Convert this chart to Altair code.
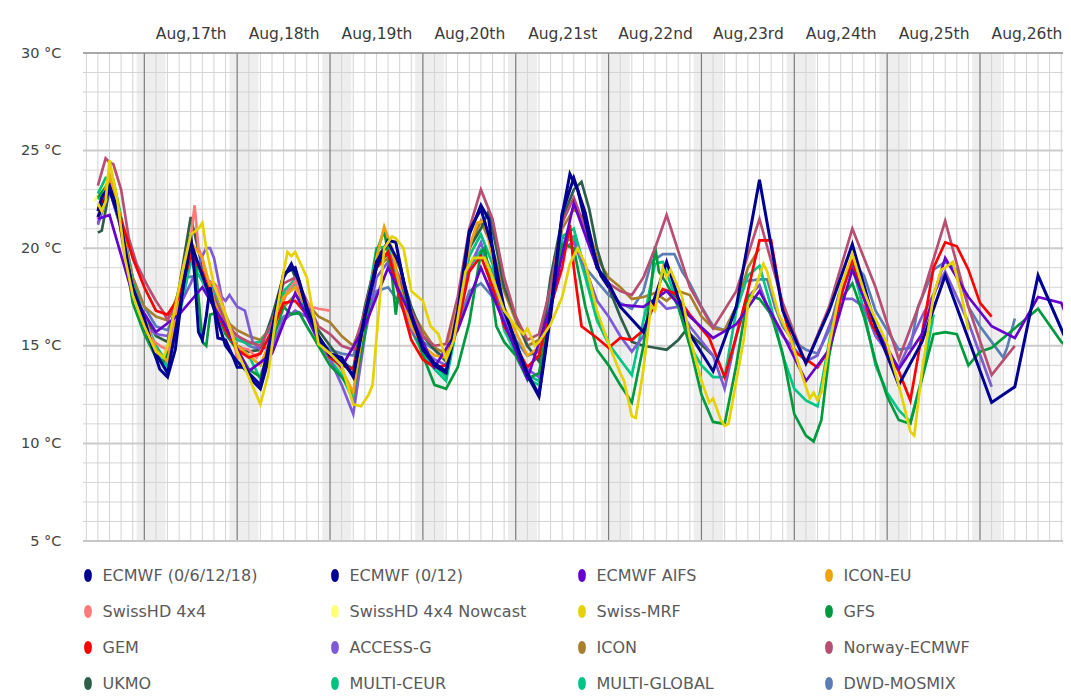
import altair as alt
import pandas as pd

# ---------------- data: (day of August, hour, temperature °C) ----------------
ECMWF_0_6_12_18 = [
    (16, 12, 21.9), (16, 13, 22.6), (16, 15, 23.2), (16, 17, 22.0), (16, 19, 19.8), (16, 21, 18.0),
    (17, 0, 16.4), (17, 2, 15.0), (17, 4, 13.8), (17, 6, 13.4), (17, 8, 14.8), (17, 10, 18.0),
    (17, 12, 20.7), (17, 13, 18.6), (17, 14, 15.7), (17, 15, 15.3), (17, 16, 16.5), (17, 17, 18.0),
    (17, 18, 17.0), (17, 19, 15.4), (17, 21, 15.3), (17, 23, 14.4),
    (18, 0, 13.9), (18, 2, 13.9), (18, 4, 13.2), (18, 6, 12.8), (18, 8, 14.2), (18, 10, 16.8),
    (18, 12, 18.5), (18, 14, 19.2), (18, 16, 18.3), (18, 18, 16.8), (18, 21, 15.5),
    (19, 0, 14.6), (19, 3, 14.4), (19, 6, 13.4), (19, 9, 16.5), (19, 12, 19.0), (19, 15, 20.4),
    (19, 17, 20.3), (19, 19, 18.3), (19, 21, 16.5),
    (20, 0, 14.8), (20, 3, 14.0), (20, 6, 13.6), (20, 9, 16.5), (20, 12, 20.7), (20, 15, 22.2),
    (20, 17, 21.5), (20, 19, 18.5), (20, 21, 16.8),
    (21, 0, 15.2), (21, 3, 13.5), (21, 6, 12.4), (21, 9, 16.5), (21, 12, 21.7), (21, 14, 23.8),
    (21, 16, 23.0), (21, 19, 20.5), (21, 22, 18.6), (22, 0, 18.0),
]
ECMWF_0_12 = [
    (16, 12, 21.6), (16, 15, 23.0), (16, 18, 21.2), (16, 21, 17.8),
    (17, 0, 16.0), (17, 3, 14.6), (17, 6, 13.6), (17, 9, 16.8), (17, 12, 20.3), (17, 15, 18.6), (17, 18, 16.9), (17, 21, 15.0),
    (18, 0, 14.2), (18, 3, 13.6), (18, 6, 13.0), (18, 9, 15.8), (18, 12, 18.7), (18, 15, 19.0), (18, 18, 17.0), (18, 21, 15.4),
    (19, 0, 14.5), (19, 3, 14.2), (19, 6, 13.5), (19, 9, 16.6), (19, 12, 19.3), (19, 15, 20.3), (19, 18, 19.2), (19, 21, 16.6),
    (20, 0, 14.9), (20, 3, 14.1), (20, 6, 13.7), (20, 9, 16.8), (20, 12, 20.9), (20, 15, 22.0), (20, 18, 20.0), (20, 21, 16.9),
    (21, 0, 15.1), (21, 3, 13.6), (21, 6, 12.5), (21, 9, 16.8), (21, 12, 21.8), (21, 15, 23.6), (21, 18, 21.8), (21, 21, 19.0),
    (22, 0, 18.2), (22, 3, 17.0), (22, 9, 15.7), (22, 15, 19.3), (22, 21, 15.6),
    (23, 3, 13.7), (23, 9, 17.0), (23, 15, 23.5), (23, 21, 16.8),
    (24, 3, 14.1), (24, 9, 16.8), (24, 15, 20.2), (24, 21, 16.0),
    (25, 3, 13.0), (25, 9, 15.2), (25, 15, 18.6), (26, 3, 12.1), (26, 9, 12.9), (26, 15, 18.6), (27, 0, 14.5),
]
ECMWF_AIFS = [
    (16, 12, 21.5), (16, 15, 21.7), (16, 21, 17.6), (17, 3, 15.7), (17, 9, 16.6), (17, 15, 18.0), (17, 21, 16.0),
    (18, 3, 13.7), (18, 9, 14.6), (18, 15, 17.7), (18, 21, 15.3), (19, 3, 13.9), (19, 9, 16.0), (19, 15, 19.0),
    (19, 21, 16.5), (20, 3, 13.9), (20, 9, 15.8), (20, 15, 19.0), (20, 21, 16.2), (21, 3, 13.3), (21, 9, 17.0),
    (21, 15, 22.3), (21, 21, 19.0), (22, 3, 17.1), (22, 9, 17.0), (22, 15, 17.8), (22, 21, 16.5), (23, 3, 15.4),
    (23, 9, 16.1), (23, 15, 17.8), (23, 21, 15.6), (24, 3, 13.2), (24, 9, 14.8), (24, 15, 18.9), (24, 21, 16.0),
    (25, 3, 13.8), (25, 9, 15.6), (25, 15, 19.5), (25, 21, 17.5), (26, 3, 16.0), (26, 9, 15.4), (26, 15, 17.5),
    (26, 21, 17.2), (27, 0, 15.7),
]
ICON_EU = [
    (16, 12, 21.6), (16, 15, 23.8), (16, 18, 21.5), (16, 21, 18.0),
    (17, 0, 16.2), (17, 3, 14.8), (17, 6, 14.2), (17, 9, 17.0), (17, 12, 20.3), (17, 15, 19.5), (17, 18, 17.3), (17, 21, 15.8),
    (18, 0, 15.0), (18, 3, 14.5), (18, 6, 14.0), (18, 9, 15.5), (18, 12, 17.5), (18, 15, 18.0), (18, 18, 17.0), (18, 21, 15.3),
    (19, 0, 14.5), (19, 3, 13.8), (19, 6, 12.6), (19, 9, 16.5), (19, 12, 19.5), (19, 14, 21.1), (19, 16, 20.0), (19, 18, 18.0),
    (19, 21, 16.0), (20, 0, 15.0), (20, 3, 14.5), (20, 6, 14.4), (20, 9, 17.0), (20, 12, 20.0), (20, 14, 21.3), (20, 16, 21.4),
    (20, 18, 19.5), (20, 21, 17.0), (21, 0, 15.7), (21, 3, 14.5), (21, 6, 14.9), (21, 9, 16.8),
]
SWISSHD_4X4 = [
    (16, 12, 21.5), (16, 13, 22.5), (16, 15, 23.4), (16, 17, 22.0), (16, 19, 19.5), (16, 21, 17.8),
    (17, 0, 16.5), (17, 2, 15.3), (17, 4, 15.0), (17, 6, 14.8), (17, 8, 16.5), (17, 10, 19.0), (17, 12, 20.5),
    (17, 13, 22.2), (17, 14, 20.0), (17, 15, 19.5), (17, 16, 18.3), (17, 18, 18.2), (17, 19, 18.0), (17, 21, 16.6),
    (17, 23, 15.5), (18, 0, 14.3), (18, 1, 14.9), (18, 3, 14.8), (18, 5, 14.4), (18, 7, 15.0), (18, 9, 15.6),
    (18, 11, 16.8), (18, 13, 17.8), (18, 15, 18.3), (18, 17, 17.5), (18, 19, 17.0), (18, 21, 16.9), (19, 0, 16.8),
]
SWISSHD_4X4_NOWCAST = [
    (16, 11, 22.4), (16, 12, 22.7), (16, 13, 23.0), (16, 14, 23.3), (16, 15, 23.1),
]
SWISS_MRF = [
    (16, 12, 22.3), (16, 13, 21.9), (16, 14, 22.4), (16, 15, 24.5), (16, 17, 22.5), (16, 19, 19.5), (16, 21, 17.6),
    (17, 0, 16.0), (17, 3, 14.7), (17, 5, 14.4), (17, 6, 15.0), (17, 9, 18.0), (17, 12, 20.7), (17, 14, 21.0),
    (17, 15, 21.3), (17, 16, 20.0), (17, 18, 18.1), (17, 21, 16.6),
    (18, 0, 14.7), (18, 3, 13.4), (18, 6, 12.0), (18, 8, 13.5), (18, 10, 16.5), (18, 12, 18.8), (18, 13, 19.8),
    (18, 14, 19.6), (18, 15, 19.8), (18, 18, 18.5), (18, 21, 15.1),
    (19, 0, 14.6), (19, 3, 14.0), (19, 6, 12.0), (19, 8, 11.9), (19, 10, 12.5), (19, 11, 13.0), (19, 12, 15.4),
    (19, 14, 20.0), (19, 16, 20.6), (19, 17, 20.5), (19, 19, 20.0), (19, 21, 17.8),
    (20, 0, 17.3), (20, 2, 16.0), (20, 4, 15.6), (20, 6, 14.3), (20, 8, 15.3), (20, 9, 16.4), (20, 11, 18.8),
    (20, 13, 19.5), (20, 16, 19.5), (20, 18, 18.5), (20, 21, 16.8),
    (21, 0, 16.0), (21, 2, 15.6), (21, 3, 15.9), (21, 5, 15.0), (21, 6, 15.2), (21, 9, 16.1), (21, 12, 17.5),
    (21, 14, 19.2), (21, 16, 20.0), (21, 18, 19.2), (21, 21, 16.8),
    (22, 0, 15.1), (22, 3, 13.6), (22, 4, 13.2), (22, 6, 11.4), (22, 7, 11.3), (22, 9, 13.8), (22, 11, 17.1),
    (22, 12, 16.8), (22, 14, 19.0), (22, 15, 18.5), (22, 16, 18.9), (22, 19, 17.5), (22, 21, 15.4),
    (23, 0, 13.2), (23, 2, 12.1), (23, 3, 12.3), (23, 5, 11.2), (23, 6, 10.9), (23, 7, 11.0), (23, 9, 13.2),
    (23, 11, 15.4), (23, 12, 17.1), (23, 14, 18.0), (23, 15, 18.6), (23, 16, 19.2), (23, 17, 18.8), (23, 20, 16.6),
    (23, 23, 15.4), (24, 2, 13.5), (24, 4, 12.3), (24, 5, 12.6), (24, 6, 12.2), (24, 7, 12.6), (24, 9, 15.0),
    (24, 12, 18.0), (24, 15, 19.7), (24, 18, 17.8), (24, 20, 16.8),
    (25, 0, 15.1), (25, 3, 13.0), (25, 6, 10.6), (25, 7, 10.4), (25, 9, 13.7), (25, 12, 17.6), (25, 14, 18.9),
    (25, 15, 19.0), (25, 17, 19.3), (25, 19, 17.8), (25, 21, 15.8),
]
GFS = [
    (16, 12, 22.6), (16, 15, 23.4), (16, 18, 21.0), (16, 21, 17.2),
    (17, 0, 15.6), (17, 3, 14.4), (17, 5, 14.2), (17, 6, 14.6), (17, 9, 17.6), (17, 12, 20.4), (17, 13, 19.6),
    (17, 14, 17.5), (17, 15, 15.2), (17, 16, 15.0), (17, 17, 16.6), (17, 19, 16.7), (17, 21, 15.6),
    (18, 0, 14.8), (18, 3, 13.8), (18, 6, 13.4), (18, 9, 15.2), (18, 12, 17.0), (18, 14, 16.6), (18, 16, 16.7),
    (18, 18, 16.0), (18, 21, 15.0),
    (19, 0, 14.0), (19, 3, 13.4), (19, 6, 12.6), (19, 9, 15.6), (19, 12, 19.8), (19, 14, 20.9), (19, 16, 18.6),
    (19, 17, 16.6), (19, 18, 18.3), (19, 21, 16.3),
    (20, 0, 14.5), (20, 3, 13.0), (20, 6, 12.8), (20, 9, 13.9), (20, 12, 16.2), (20, 14, 18.6), (20, 15, 19.8),
    (20, 16, 20.0), (20, 17, 18.8), (20, 19, 16.0), (20, 21, 15.2),
    (21, 0, 14.5), (21, 3, 13.3), (21, 6, 13.6), (21, 9, 16.8), (21, 12, 20.2), (21, 15, 20.0), (21, 18, 17.0),
    (21, 21, 14.8),
    (22, 0, 14.0), (22, 3, 13.0), (22, 6, 12.1), (22, 9, 15.0), (22, 11, 18.0), (22, 12, 20.1), (22, 13, 18.8),
    (22, 15, 18.2), (22, 18, 17.0), (22, 21, 15.0),
    (23, 0, 12.5), (23, 3, 11.1), (23, 6, 11.0), (23, 9, 14.0), (23, 12, 17.6), (23, 15, 17.4), (23, 18, 16.6),
    (23, 21, 14.6),
    (24, 0, 11.5), (24, 3, 10.4), (24, 5, 10.1), (24, 7, 11.2), (24, 9, 14.5), (24, 12, 17.4), (24, 15, 18.2),
    (24, 18, 16.5), (24, 21, 14.2),
    (25, 0, 12.4), (25, 3, 11.2), (25, 6, 11.0), (25, 9, 13.3), (25, 12, 15.6), (25, 15, 15.7), (25, 18, 15.6),
    (25, 21, 14.0),
    (26, 0, 14.7), (26, 3, 14.9), (26, 9, 15.9), (26, 15, 16.9), (26, 21, 15.2), (27, 0, 14.7),
]
GEM = [
    (16, 12, 22.0), (16, 15, 23.0), (16, 18, 21.5), (16, 21, 19.5),
    (17, 0, 18.0), (17, 3, 16.8), (17, 6, 16.6), (17, 9, 17.5), (17, 12, 19.6), (17, 15, 18.8), (17, 18, 17.0), (17, 21, 15.8),
    (18, 0, 14.8), (18, 3, 14.4), (18, 6, 14.6), (18, 9, 15.8), (18, 12, 17.2), (18, 15, 17.3), (18, 18, 16.6), (18, 21, 15.5),
    (19, 0, 14.4), (19, 3, 14.0), (19, 6, 13.8), (19, 9, 16.5), (19, 12, 19.0), (19, 15, 19.8), (19, 18, 17.5), (19, 21, 15.3),
    (20, 0, 14.3), (20, 3, 13.9), (20, 6, 14.0), (20, 9, 16.0), (20, 12, 18.8), (20, 15, 19.6), (20, 18, 18.0), (20, 21, 16.0),
    (21, 0, 15.0), (21, 3, 13.9), (21, 6, 14.5), (21, 9, 17.0), (21, 12, 19.0), (21, 14, 21.2), (21, 15, 19.0),
    (21, 17, 16.0), (21, 21, 15.4),
    (22, 0, 14.9), (22, 3, 15.4), (22, 6, 15.3), (22, 9, 15.8), (22, 12, 17.2), (22, 14, 17.9), (22, 17, 17.7),
    (22, 21, 16.6), (23, 2, 15.4), (23, 6, 13.4), (23, 9, 15.5), (23, 12, 17.8), (23, 15, 20.4), (23, 18, 20.4),
    (23, 21, 16.9), (24, 0, 14.7), (24, 3, 14.3), (24, 6, 13.9), (24, 9, 14.8), (24, 12, 17.5), (24, 15, 19.4),
    (24, 20, 16.1), (25, 3, 13.7), (25, 6, 12.2), (25, 12, 19.0), (25, 15, 20.3), (25, 18, 20.1), (25, 21, 18.9),
    (26, 0, 17.2), (26, 3, 16.5),
]
ACCESS_G = [
    (16, 12, 21.2), (16, 15, 23.0), (16, 18, 21.0), (16, 21, 17.8),
    (17, 0, 16.0), (17, 3, 15.6), (17, 6, 15.5), (17, 9, 17.0), (17, 12, 18.2), (17, 15, 19.6), (17, 16, 20.0),
    (17, 17, 20.0), (17, 18, 19.5), (17, 20, 17.5), (17, 21, 17.3), (17, 22, 17.6),
    (18, 0, 17.0), (18, 2, 16.8), (18, 4, 15.2), (18, 6, 14.8), (18, 9, 15.0), (18, 12, 16.3), (18, 15, 16.8),
    (18, 18, 16.5), (18, 21, 15.2),
    (19, 0, 14.3), (19, 3, 13.0), (19, 6, 11.5), (19, 9, 15.5), (19, 12, 18.5), (19, 15, 19.3), (19, 18, 17.5),
    (19, 21, 15.8),
    (20, 0, 14.8), (20, 3, 14.3), (20, 6, 14.0), (20, 9, 16.5), (20, 12, 19.0), (20, 15, 20.3), (20, 18, 18.5),
    (20, 21, 16.5),
    (21, 0, 14.8), (21, 3, 13.8), (21, 6, 13.4), (21, 9, 17.0), (21, 12, 20.0), (21, 15, 20.3), (21, 18, 19.0),
    (21, 21, 17.3),
    (22, 0, 16.5), (22, 3, 15.5), (22, 6, 14.7), (22, 9, 15.5), (22, 12, 17.5), (22, 15, 16.9), (22, 18, 17.0),
    (22, 21, 16.0), (23, 3, 14.5), (23, 6, 12.8), (23, 9, 15.5), (23, 12, 17.5), (23, 15, 18.1), (23, 18, 16.5),
    (23, 21, 15.5), (24, 3, 14.2), (24, 6, 14.5), (24, 9, 16.0), (24, 12, 17.4), (24, 15, 17.4), (24, 18, 17.0),
    (24, 21, 15.5), (25, 3, 13.9), (25, 9, 16.5), (25, 15, 18.8), (25, 21, 16.2), (26, 3, 12.9),
]
ICON = [
    (16, 12, 21.3), (16, 15, 23.2), (16, 18, 21.3), (16, 21, 18.5),
    (17, 0, 17.0), (17, 3, 16.5), (17, 6, 16.3), (17, 9, 17.8), (17, 12, 19.6), (17, 15, 18.8), (17, 18, 17.5), (17, 21, 16.3),
    (18, 0, 15.8), (18, 3, 15.5), (18, 6, 15.3), (18, 9, 16.0), (18, 12, 17.0), (18, 15, 17.6), (18, 18, 17.2), (18, 21, 16.5),
    (19, 0, 16.2), (19, 3, 15.5), (19, 6, 15.0), (19, 9, 16.5), (19, 12, 19.0), (19, 15, 19.5), (19, 18, 18.3), (19, 21, 16.8),
    (20, 0, 15.8), (20, 3, 14.9), (20, 6, 14.6), (20, 9, 17.0), (20, 12, 20.0), (20, 15, 21.4), (20, 18, 20.0), (20, 21, 17.8),
    (21, 0, 16.3), (21, 3, 15.0), (21, 6, 15.3), (21, 9, 18.0), (21, 12, 21.0), (21, 15, 22.0), (21, 18, 21.5), (21, 21, 19.5),
    (22, 0, 18.5), (22, 3, 18.0), (22, 6, 17.4), (22, 9, 17.5), (22, 12, 17.7), (22, 15, 17.3), (22, 18, 17.8), (22, 21, 17.6),
    (23, 0, 16.5), (23, 3, 15.9), (23, 6, 15.8), (23, 9, 17.0), (23, 12, 19.0), (23, 15, 20.0),
]
NORWAY_ECMWF = [
    (16, 12, 23.2), (16, 14, 24.6), (16, 15, 24.4), (16, 16, 24.3), (16, 18, 23.0), (16, 20, 20.5), (16, 22, 19.2),
    (17, 1, 18.0), (17, 3, 17.3), (17, 5, 16.7), (17, 6, 16.3), (17, 9, 17.5), (17, 12, 19.8), (17, 15, 18.8),
    (17, 18, 17.5), (17, 21, 16.2),
    (18, 0, 15.5), (18, 3, 15.2), (18, 6, 15.0), (18, 9, 16.2), (18, 12, 18.2), (18, 15, 18.5), (18, 18, 17.3), (18, 21, 16.0),
    (19, 0, 15.6), (19, 3, 15.0), (19, 6, 14.8), (19, 9, 16.8), (19, 12, 19.3), (19, 15, 19.8), (19, 18, 18.5), (19, 21, 16.8),
    (20, 0, 15.5), (20, 3, 15.0), (20, 6, 15.1), (20, 9, 17.5), (20, 12, 21.0), (20, 15, 23.0), (20, 18, 21.5), (20, 21, 18.5),
    (21, 0, 16.5), (21, 3, 15.3), (21, 6, 15.6), (21, 9, 18.0), (21, 12, 21.3), (21, 15, 22.6), (21, 18, 21.0), (21, 21, 19.0),
    (22, 0, 18.2), (22, 3, 17.8), (22, 6, 17.6), (22, 9, 18.5), (22, 12, 20.0), (22, 15, 21.7), (22, 21, 18.0),
    (23, 3, 15.9), (23, 9, 17.8), (23, 15, 21.5), (23, 21, 17.2), (24, 3, 14.1), (24, 9, 17.0), (24, 15, 21.0),
    (24, 21, 18.0), (25, 3, 14.3), (25, 9, 17.5), (25, 15, 21.4), (25, 21, 17.0), (26, 3, 13.5), (26, 9, 15.0),
]
UKMO = [
    (16, 12, 20.8), (16, 13, 20.9), (16, 15, 23.0), (16, 18, 21.0), (16, 21, 18.2),
    (17, 0, 16.5), (17, 3, 15.5), (17, 6, 15.2), (17, 9, 18.0), (17, 12, 21.6), (17, 15, 19.0), (17, 18, 17.0), (17, 21, 15.8),
    (18, 0, 15.0), (18, 3, 14.7), (18, 6, 14.8), (18, 9, 16.5), (18, 12, 18.6), (18, 14, 19.0), (18, 16, 18.0),
    (18, 18, 16.5), (18, 21, 15.8),
    (19, 0, 15.0), (19, 3, 14.2), (19, 6, 13.8), (19, 9, 17.0), (19, 12, 19.5), (19, 15, 20.3), (19, 18, 19.0), (19, 21, 17.0),
    (20, 0, 15.5), (20, 3, 14.8), (20, 6, 14.2), (20, 9, 17.0), (20, 12, 20.0), (20, 15, 21.0), (20, 17, 21.9),
    (20, 19, 20.0), (20, 21, 18.0),
    (21, 0, 16.5), (21, 3, 15.0), (21, 6, 14.2), (21, 9, 18.5), (21, 12, 21.5), (21, 15, 23.0), (21, 17, 23.4),
    (21, 19, 22.0), (21, 21, 20.0),
    (22, 0, 18.0), (22, 3, 16.5), (22, 6, 15.2), (22, 9, 15.0), (22, 12, 14.9), (22, 15, 14.8), (22, 18, 15.3),
    (22, 20, 15.8), (23, 3, 14.5),
]
MULTI_CEUR = [
    (16, 12, 22.8), (16, 14, 23.6), (16, 16, 23.5), (16, 18, 21.6), (16, 21, 18.2),
    (17, 0, 16.4), (17, 3, 15.0), (17, 6, 14.1), (17, 9, 16.8), (17, 12, 19.6), (17, 15, 18.6), (17, 18, 17.6), (17, 21, 15.9),
    (18, 0, 15.3), (18, 3, 15.1), (18, 6, 15.2), (18, 9, 16.0), (18, 12, 17.8), (18, 15, 18.4), (18, 18, 17.0), (18, 21, 15.5),
    (19, 0, 14.6), (19, 3, 13.8), (19, 6, 12.4), (19, 9, 16.4), (19, 12, 20.0), (19, 15, 20.1), (19, 18, 18.0), (19, 21, 16.0),
    (20, 0, 14.8), (20, 3, 14.0), (20, 6, 13.4), (20, 9, 16.5), (20, 12, 19.6), (20, 15, 20.7), (20, 18, 19.2), (20, 21, 16.2),
    (21, 0, 14.8), (21, 3, 13.5), (21, 6, 13.2), (21, 9, 17.2), (21, 12, 20.6), (21, 15, 21.0), (21, 18, 18.8),
    (21, 21, 16.5), (22, 0, 15.2),
]
MULTI_GLOBAL = [
    (16, 12, 22.5), (16, 15, 23.3), (16, 18, 21.2), (16, 21, 17.8),
    (17, 0, 16.0), (17, 3, 14.7), (17, 6, 13.9), (17, 9, 16.5), (17, 12, 19.3), (17, 15, 18.3), (17, 18, 17.2), (17, 21, 15.6),
    (18, 0, 15.0), (18, 3, 14.5), (18, 6, 13.3), (18, 9, 15.5), (18, 12, 17.6), (18, 15, 18.2), (18, 18, 16.8), (18, 21, 15.2),
    (19, 0, 14.3), (19, 3, 13.5), (19, 6, 12.2), (19, 9, 16.0), (19, 12, 19.7), (19, 15, 19.6), (19, 18, 17.8), (19, 21, 15.8),
    (20, 0, 14.6), (20, 3, 13.8), (20, 6, 13.2), (20, 9, 16.2), (20, 12, 19.0), (20, 15, 19.9), (20, 18, 18.8), (20, 21, 15.8),
    (21, 0, 14.6), (21, 3, 13.3), (21, 6, 13.0), (21, 9, 16.8), (21, 12, 20.3), (21, 15, 20.5), (21, 18, 18.5), (21, 21, 16.3),
    (22, 0, 15.1), (22, 3, 14.3), (22, 6, 13.5), (22, 9, 16.3), (22, 12, 19.2), (22, 14, 19.3), (22, 16, 18.2),
    (22, 19, 16.5), (22, 21, 15.0),
    (23, 0, 14.0), (23, 3, 13.4), (23, 6, 13.4), (23, 9, 16.8), (23, 12, 18.6), (23, 15, 19.1), (23, 18, 17.0), (23, 21, 14.5),
    (24, 0, 12.8), (24, 3, 12.2), (24, 6, 11.9), (24, 9, 15.2), (24, 12, 17.8), (24, 15, 19.1), (24, 18, 16.8), (24, 21, 14.0),
    (25, 0, 12.6), (25, 3, 11.7), (25, 6, 11.1), (25, 9, 13.4), (25, 12, 16.6),
]
DWD_MOSMIX = [
    (16, 12, 21.6), (16, 15, 23.0), (16, 18, 21.5), (16, 21, 18.5),
    (17, 0, 17.0), (17, 3, 16.0), (17, 6, 15.8), (17, 9, 17.0), (17, 11, 18.5), (17, 14, 18.6), (17, 17, 18.3),
    (17, 20, 17.0), (17, 23, 15.7),
    (18, 3, 15.0), (18, 6, 14.8), (18, 9, 15.5), (18, 12, 16.5), (18, 15, 16.7), (18, 18, 16.5), (18, 21, 15.3),
    (19, 0, 14.8), (19, 3, 14.6), (19, 6, 14.5), (19, 9, 16.0), (19, 12, 17.8), (19, 15, 18.0), (19, 18, 17.2), (19, 21, 16.0),
    (20, 0, 15.2), (20, 3, 14.8), (20, 6, 14.3), (20, 9, 16.0), (20, 12, 17.8), (20, 15, 18.2), (20, 18, 17.5), (20, 21, 16.5),
    (21, 0, 15.3), (21, 3, 14.5), (21, 6, 14.7), (21, 9, 17.5), (21, 12, 20.5), (21, 15, 20.6), (21, 18, 19.0), (21, 21, 18.3),
    (22, 0, 17.6), (22, 3, 17.2), (22, 6, 16.9), (22, 9, 17.8), (22, 11, 19.3), (22, 14, 19.7), (22, 17, 19.7),
    (22, 19, 18.8), (22, 21, 18.2),
    (23, 0, 17.0), (23, 3, 16.0), (23, 6, 15.8), (23, 9, 17.0), (23, 11, 18.3), (23, 15, 18.4), (23, 17, 18.4),
    (23, 19, 17.0), (23, 21, 16.0),
    (24, 0, 15.2), (24, 3, 14.8), (24, 6, 14.6), (24, 9, 15.8), (24, 12, 18.0), (24, 15, 19.3), (24, 18, 18.6), (24, 21, 16.8),
    (25, 0, 15.8), (25, 3, 14.8), (25, 6, 14.9), (25, 8, 17.0), (25, 12, 18.9), (25, 15, 19.3), (25, 18, 18.9), (25, 21, 17.0),
    (26, 0, 16.0), (26, 3, 15.2), (26, 6, 14.4), (26, 7, 14.9), (26, 9, 16.4),
]

MODEL_NAMES = [
    "ECMWF (0/6/12/18)", "ECMWF (0/12)", "ECMWF AIFS", "ICON-EU",
    "SwissHD 4x4", "SwissHD 4x4 Nowcast", "Swiss-MRF", "GFS",
    "GEM", "ACCESS-G", "ICON", "Norway-ECMWF",
    "UKMO", "MULTI-CEUR", "MULTI-GLOBAL", "DWD-MOSMIX",
]
MODEL_COLORS = [
    "#000092", "#000092", "#6600cc", "#f0a30a",
    "#ff7b7b", "#ffff7a", "#e6d200", "#009a3e",
    "#ff0000", "#7d5bd6", "#a87f2c", "#b84f72",
    "#2e5e48", "#00c27e", "#00c685", "#5b7db6",
]
MODEL_SERIES = [
    ECMWF_0_6_12_18, ECMWF_0_12, ECMWF_AIFS, ICON_EU,
    SWISSHD_4X4, SWISSHD_4X4_NOWCAST, SWISS_MRF, GFS,
    GEM, ACCESS_G, ICON, NORWAY_ECMWF,
    UKMO, MULTI_CEUR, MULTI_GLOBAL, DWD_MOSMIX,
]
# drawing order, bottom to top
DRAW_ORDER = [
    "SwissHD 4x4 Nowcast", "DWD-MOSMIX", "ICON", "UKMO", "MULTI-GLOBAL", "MULTI-CEUR",
    "ACCESS-G", "GFS", "Norway-ECMWF", "SwissHD 4x4", "ICON-EU", "GEM", "ECMWF AIFS",
    "ECMWF (0/12)", "ECMWF (0/6/12/18)", "Swiss-MRF",
]


def stamp(day, hour, minute=0):
    return f"2025-08-{day:02d}T{hour:02d}:{minute:02d}:00"


frames = {}
for name, pts in zip(MODEL_NAMES, MODEL_SERIES):
    frames[name] = pd.DataFrame({
        "t": [stamp(d, h) for d, h, _ in pts],
        "v": [v for _, _, v in pts],
        "model": name,
    })

# ---------------- scales / structure ----------------
XS = alt.Scale(domain=[alt.DateTime(year=2025, month=8, date=16, hours=8, minutes=9),
                       alt.DateTime(year=2025, month=8, date=26, hours=21, minutes=27)])
YS = alt.Scale(domain=[5, 30], nice=False, zero=False)
PLOT_W, PLOT_H = 980, 488

nights = pd.DataFrame({
    "s": [stamp(d, 22) for d in range(16, 27)],
    "e": [stamp(d + 1, 5, 30) for d in range(16, 27)],
})
grid3h = pd.DataFrame({"t": [stamp(d, h) for d in range(16, 27) for h in range(0, 24, 3)
                             if not (d == 16 and h < 9) and h != 0]})
midnights = pd.DataFrame({"t": [stamp(d, 0) for d in range(17, 27)]})
minor_y = pd.DataFrame({"g": [v for v in range(6, 30) if v % 5 != 0]})
major_y = pd.DataFrame({"g": [10, 15, 20, 25]})
bottom_y = pd.DataFrame({"g": [5]})
top_y = pd.DataFrame({"g": [30]})

noon_values = [alt.DateTime(year=2025, month=8, date=d, hours=12) for d in range(17, 27)]
X_AXIS = alt.Axis(
    orient="top", values=noon_values, title=None, grid=False, ticks=False, domain=False,
    labelExpr="'Aug,' + date(datum.value) + (date(datum.value) == 21 ? 'st' : date(datum.value) == 22 ? 'nd' : date(datum.value) == 23 ? 'rd' : 'th')",
    labelFont="DejaVu Sans", labelFontSize=15.5, labelColor="#3a3a3a",
    labelPadding=15, labelBaseline="alphabetic", labelFlush=False, labelOverlap=False,
)
Y_AXIS = alt.Axis(
    values=[5, 10, 15, 20, 25, 30], title=None, grid=False, ticks=False, domain=False,
    labelExpr="datum.value + ' °C'", labelFont="DejaVu Sans", labelFontSize=14.5,
    labelColor="#444444", labelPadding=22, labelFlush=False,
)


def xenc(field):
    return alt.X(field, scale=XS, axis=X_AXIS)


def yenc(field):
    return alt.Y(field, scale=YS, axis=Y_AXIS)


layers = []
layers.append(
    alt.Chart(nights).mark_rect(color="#eeeeee").encode(
        x=xenc("s:T"), x2="e:T", y=alt.value(0), y2=alt.value(PLOT_H),
    )
)
layers.append(alt.Chart(grid3h).mark_rule(color="#d4d4d4", strokeWidth=1).encode(x=xenc("t:T")))
layers.append(alt.Chart(minor_y).mark_rule(color="#d4d4d4", strokeWidth=1).encode(y=yenc("g:Q")))
layers.append(alt.Chart(major_y).mark_rule(color="#cbcbcb", strokeWidth=2).encode(y=yenc("g:Q")))
layers.append(alt.Chart(midnights).mark_rule(color="#7c7c7c", strokeWidth=1.2).encode(x=xenc("t:T")))
layers.append(alt.Chart(bottom_y).mark_rule(color="#c8c8c8", strokeWidth=2).encode(y=yenc("g:Q")))
layers.append(alt.Chart(top_y).mark_rule(color="#8c8c8c", strokeWidth=1.6).encode(y=yenc("g:Q")))

OVAL = "M0,-1 C0.45,-1 0.45,1 0,1 C-0.45,1 -0.45,-1 0,-1 Z"
LEGEND = alt.Legend(
    title=None, orient="none", legendX=-3, legendY=514.5, columns=4, direction="horizontal",
    gridAlign="all", symbolType=OVAL, symbolSize=64, symbolStrokeWidth=5, symbolOpacity=1,
    labelFont="DejaVu Sans", labelFontSize=16, labelColor="#5a5a5a", labelLimit=400,
    labelOffset=6.5, columnPadding=43, rowPadding=8, padding=0,
)
COLOR = alt.Color("model:N", scale=alt.Scale(domain=MODEL_NAMES, range=MODEL_COLORS), legend=LEGEND)

for name in DRAW_ORDER:
    width = 3.0 if name.startswith("ECMWF (") else 2.7
    layers.append(
        alt.Chart(frames[name]).mark_line(strokeWidth=width, clip=True).encode(
            x=xenc("t:T"), y=yenc("v:Q"), color=COLOR,
        )
    )

chart = alt.layer(*layers).properties(
    width=PLOT_W, height=PLOT_H,
    padding={"left": 75, "top": 45, "right": 0, "bottom": 160},
    autosize=alt.AutoSizeParams(type="none"),
).configure_view(stroke=None)

chart.save("out.html", embed_options={"renderer": "svg", "actions": False})
